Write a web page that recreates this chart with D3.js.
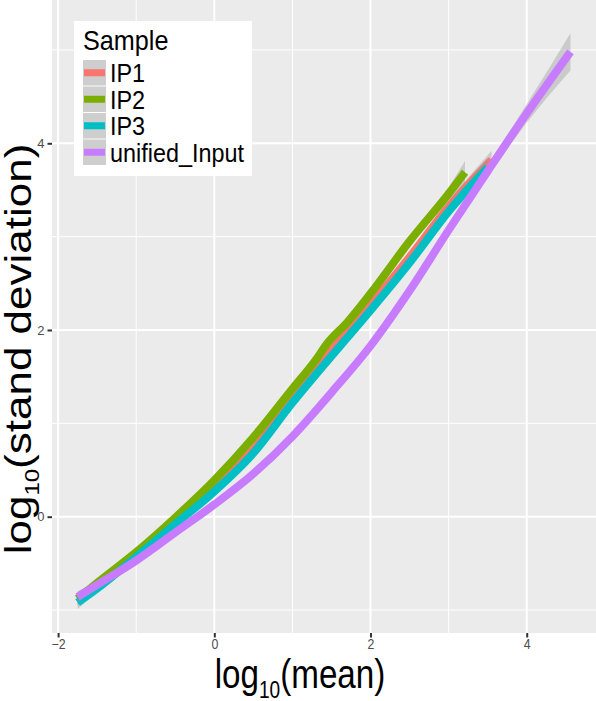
<!DOCTYPE html>
<html>
<head>
<meta charset="utf-8">
<script src="https://cdn.jsdelivr.net/npm/d3@7"></script>
<style>
  body { margin: 0; background: #fff; }
  text { font-family: "Liberation Sans", Arial, sans-serif; }
</style>
</head>
<body>
<div id="chart"></div>
<script>
// sample names + ggplot default hues
var samples = ["IP1", "IP2", "IP3", "unified_Input"];
var colors = ["#F8766D", "#7CAE00", "#00BFC4", "#C77CFF"];

// smoothed curves (log10 mean -> log10 sd)
var ip1_x = [-1.75, -1.5, -1, -0.5, 0, 0.5, 1, 1.5, 2, 2.5, 3, 3.55];
var ip1_y = [-0.88, -0.73, -0.40, -0.05, 0.31, 0.72, 1.27, 1.78, 2.27, 2.78, 3.32, 3.82];
var ip1_se = [0.07, 0.04, 0.03, 0.02, 0.02, 0.02, 0.02, 0.03, 0.03, 0.04, 0.06, 0.10];

var ip2_x = [-1.75, -1.5, -1, -0.5, 0, 0.5, 1, 1.3, 1.45, 1.7, 2, 2.5, 3, 3.21];
var ip2_y = [-0.88, -0.71, -0.38, -0.01, 0.39, 0.85, 1.37, 1.68, 1.86, 2.08, 2.39, 2.95, 3.46, 3.69];
var ip2_se = [0.07, 0.04, 0.03, 0.02, 0.02, 0.02, 0.02, 0.03, 0.03, 0.03, 0.03, 0.04, 0.07, 0.12];

var ip3_x = [-1.75, -1.5, -1, -0.5, 0, 0.5, 1, 1.5, 2, 2.5, 3, 3.5];
var ip3_y = [-0.92, -0.77, -0.43, -0.08, 0.27, 0.68, 1.22, 1.72, 2.21, 2.72, 3.27, 3.74];
var ip3_se = [0.07, 0.04, 0.03, 0.02, 0.02, 0.02, 0.02, 0.03, 0.03, 0.04, 0.06, 0.10];

var inp_x = [-1.75, -1.5, -1, -0.5, 0, 0.5, 1, 1.5, 2, 2.5, 3, 3.5, 4, 4.56];
var inp_y = [-0.86, -0.73, -0.47, -0.17, 0.13, 0.46, 0.86, 1.33, 1.83, 2.42, 3.07, 3.70, 4.32, 4.98];
var inp_se = [0.06, 0.04, 0.03, 0.02, 0.02, 0.02, 0.02, 0.02, 0.03, 0.03, 0.04, 0.06, 0.10, 0.20];

var x_ticks = [-2, 0, 2, 4];
var x_minor = [-1, 1, 3];
var y_ticks = [0, 2, 4];
var y_minor = [-1, 1, 3, 5];

var w = 596, h = 701;
var panel = {left: 52, right: 596, top: 0, bottom: 633};
var squash = 0.83; // the picture is narrowed horizontally

function zip(xs, ys, se) {
  return xs.map(function(d, i) { return {x: d, y: ys[i], se: se[i]}; });
}

function minus(d) { return d < 0 ? "\u2212" + Math.abs(d) : "" + d; }

var series = [
  {name: samples[0], color: colors[0], values: zip(ip1_x, ip1_y, ip1_se)},
  {name: samples[1], color: colors[1], values: zip(ip2_x, ip2_y, ip2_se)},
  {name: samples[2], color: colors[2], values: zip(ip3_x, ip3_y, ip3_se)},
  {name: samples[3], color: colors[3], values: zip(inp_x, inp_y, inp_se)}
];

var x = d3.scaleLinear().domain([-2.078, 4.887]).range([panel.left, panel.right]);
var y = d3.scaleLinear().domain([-1.246, 5.535]).range([panel.bottom, panel.top]);

var svg = d3.select("#chart").append("svg")
  .attr("width", w)
  .attr("height", h);

svg.append("clipPath").attr("id", "clip")
  .append("rect")
  .attr("x", panel.left).attr("y", panel.top)
  .attr("width", panel.right - panel.left)
  .attr("height", panel.bottom - panel.top);

svg.append("rect")
  .attr("x", panel.left).attr("y", panel.top)
  .attr("width", panel.right - panel.left)
  .attr("height", panel.bottom - panel.top)
  .attr("fill", "#EBEBEB");

// grid
var grid = svg.append("g");
grid.selectAll("line.xminor").data(x_minor).enter().append("line")
  .attr("x1", x).attr("x2", x).attr("y1", panel.top).attr("y2", panel.bottom)
  .attr("stroke", "#fff").attr("stroke-width", 1);
grid.selectAll("line.yminor").data(y_minor).enter().append("line")
  .attr("y1", y).attr("y2", y).attr("x1", panel.left).attr("x2", panel.right)
  .attr("stroke", "#fff").attr("stroke-width", 1);
grid.selectAll("line.xmajor").data(x_ticks).enter().append("line")
  .attr("x1", x).attr("x2", x).attr("y1", panel.top).attr("y2", panel.bottom)
  .attr("stroke", "#fff").attr("stroke-width", 2);
grid.selectAll("line.ymajor").data(y_ticks).enter().append("line")
  .attr("y1", y).attr("y2", y).attr("x1", panel.left).attr("x2", panel.right)
  .attr("stroke", "#fff").attr("stroke-width", 2);

// smooths: ribbon then line, one group after the other (like geom_smooth)
var line = d3.line()
  .x(function(d) { return x(d.x); })
  .y(function(d) { return y(d.y); })
  .curve(d3.curveMonotoneX);
var ribbon = d3.area()
  .x(function(d) { return x(d.x); })
  .y0(function(d) { return y(d.y - d.se); })
  .y1(function(d) { return y(d.y + d.se); })
  .curve(d3.curveMonotoneX);

var smooth = svg.append("g").attr("clip-path", "url(#clip)")
  .selectAll("g.smooth")
  .data(series)
  .enter()
  .append("g")
  .classed("smooth", true);

smooth.append("path")
  .attr("d", function(d) { return ribbon(d.values); })
  .attr("fill", "#999999")
  .attr("fill-opacity", 0.4);

smooth.append("path")
  .attr("d", function(d) { return line(d.values); })
  .attr("fill", "none")
  .attr("stroke", function(d) { return d.color; })
  .attr("stroke-width", 8);

// axes
var xAxis = d3.axisBottom(x).tickValues(x_ticks).tickSize(4.5).tickPadding(2)
  .tickFormat(minus);
var gx = svg.append("g")
  .attr("transform", "translate(0," + panel.bottom + ")")
  .call(xAxis);
gx.select(".domain").remove();
gx.selectAll("line").attr("stroke", "#333").attr("stroke-width", 2);
gx.selectAll("text")
  .attr("fill", "#4D4D4D")
  .style("font-size", "14px")
  .attr("transform", "scale(0.88,1)");

var yAxis = d3.axisLeft(y).tickValues(y_ticks).tickSize(4.5).tickPadding(3)
  .tickFormat(minus);
var gy = svg.append("g")
  .attr("transform", "translate(" + panel.left + ",0)")
  .call(yAxis);
gy.select(".domain").remove();
gy.selectAll("line").attr("stroke", "#333").attr("stroke-width", 2);
gy.selectAll("text")
  .attr("fill", "#4D4D4D")
  .style("font-size", "13px");

// axis titles
var xt = svg.append("text")
  .attr("transform", "translate(300,688) scale(" + squash + ",1)")
  .attr("text-anchor", "middle")
  .style("font-size", "40px")
  .attr("fill", "#000");
xt.append("tspan").text("log");
xt.append("tspan").attr("dy", 10).style("font-size", "23px").text("10");
xt.append("tspan").attr("dy", -10).text("(mean)");

var yt = svg.append("text")
  .attr("transform", "translate(31,349) scale(" + squash + ",1) rotate(-90)")
  .attr("text-anchor", "middle")
  .style("font-size", "44px")
  .attr("fill", "#000");
yt.append("tspan").text("log");
yt.append("tspan").attr("dy", 10).style("font-size", "24px").text("10");
yt.append("tspan").attr("dy", -10).text("(stand deviation)");

// legend
var legend = svg.append("g").attr("transform", "translate(74,21)");
legend.append("rect")
  .attr("width", 178).attr("height", 155)
  .attr("fill", "#fff");
legend.append("text")
  .attr("transform", "translate(9,29) scale(0.9,1)")
  .style("font-size", "28px")
  .text("Sample");

var key = legend.selectAll("g.key")
  .data(series)
  .enter()
  .append("g")
  .classed("key", true)
  .attr("transform", function(d, i) { return "translate(9," + (39 + i * 26.5) + ")"; });
key.append("rect")
  .attr("width", 23).attr("height", 25.5)
  .attr("fill", "#F2F2F2");
key.append("rect")
  .attr("width", 23).attr("height", 25.5)
  .attr("fill", "#999999").attr("fill-opacity", 0.4);
key.append("line")
  .attr("x1", 1).attr("x2", 22).attr("y1", 12.75).attr("y2", 12.75)
  .attr("stroke", function(d) { return d.color; })
  .attr("stroke-width", 7);
key.append("text")
  .attr("transform", "translate(27,22) scale(0.9,1)")
  .style("font-size", "26px")
  .text(function(d) { return d.name; });
</script>
</body>
</html>
